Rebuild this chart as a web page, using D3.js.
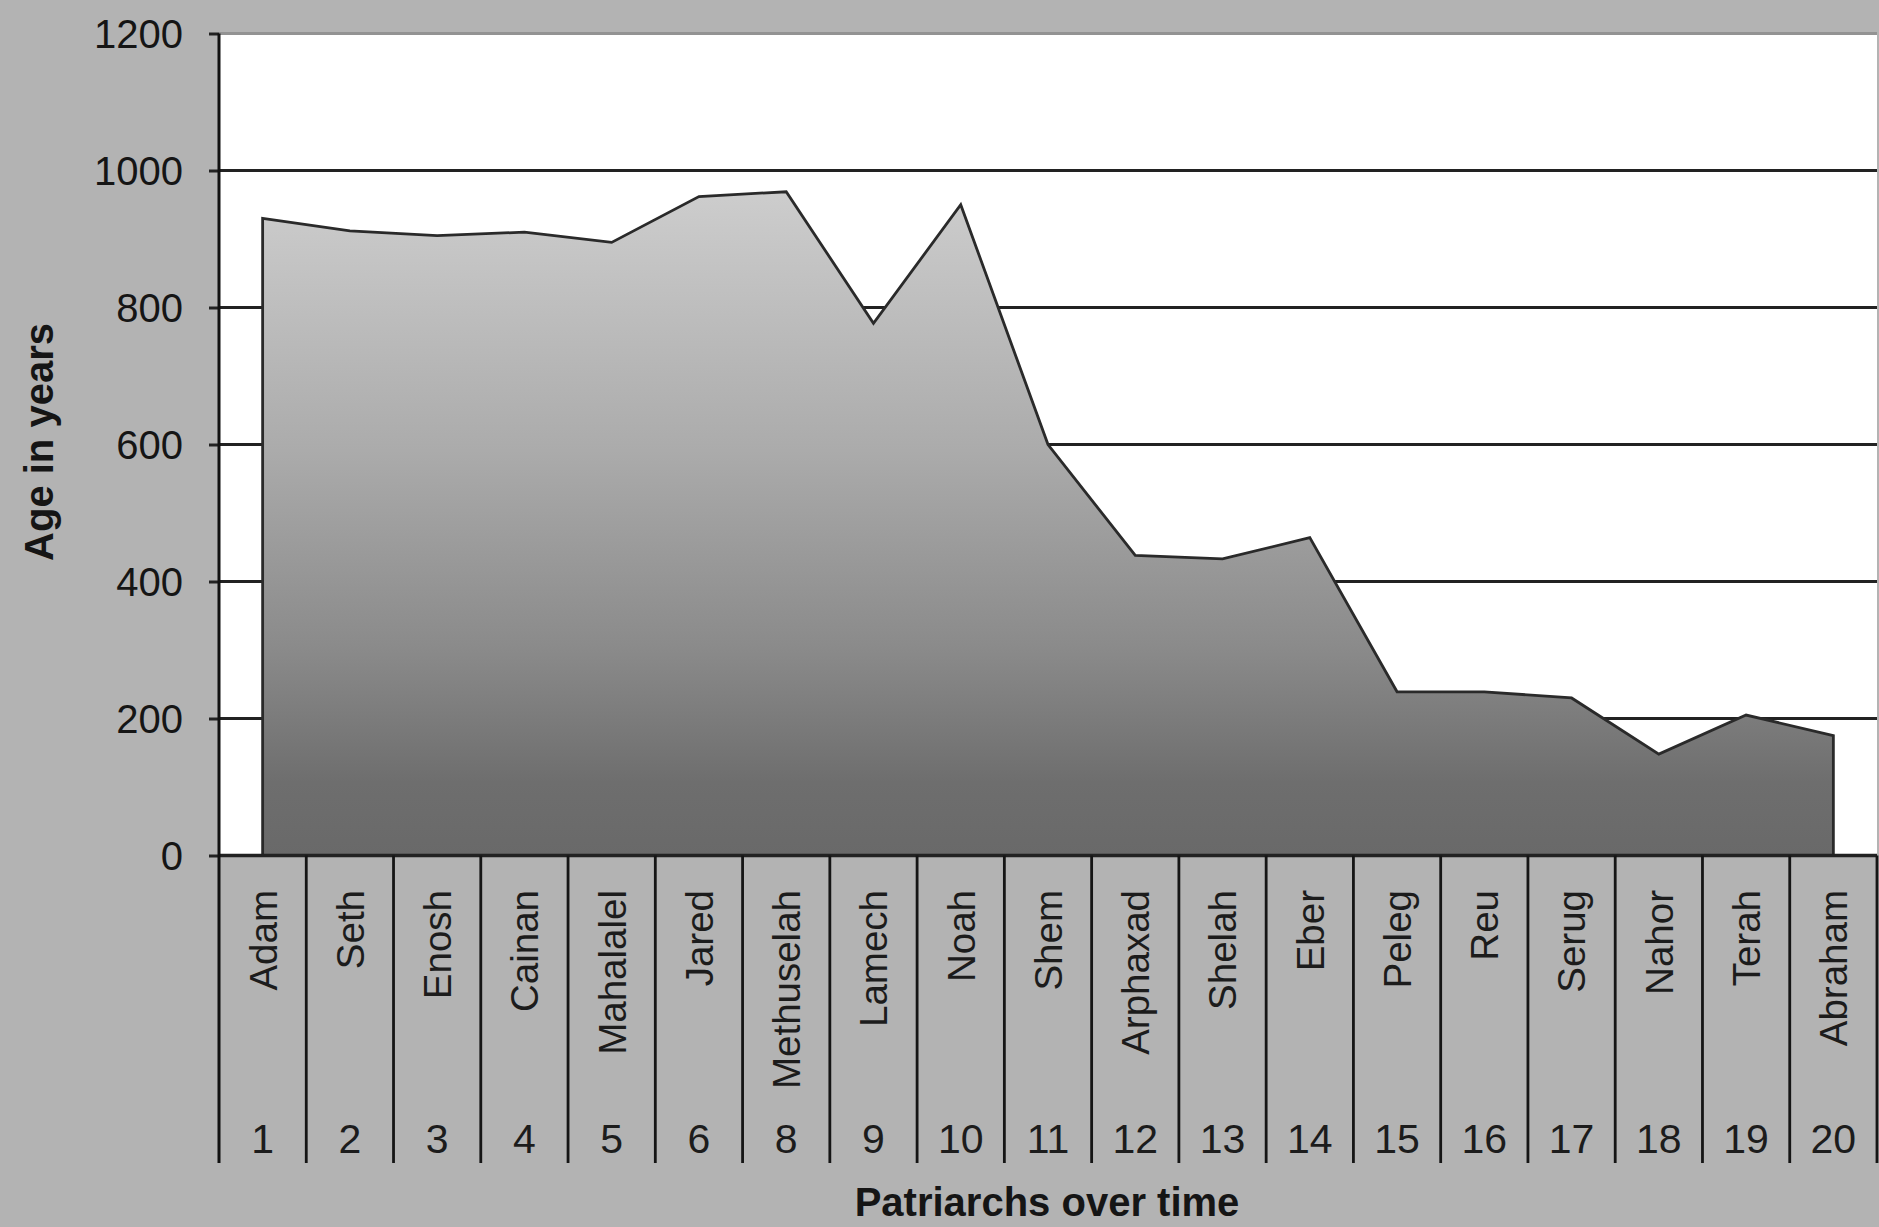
<!DOCTYPE html>
<html><head><meta charset="utf-8">
<script src="https://cdn.jsdelivr.net/npm/d3@7"></script>
<style>html,body{margin:0;padding:0;background:#b3b3b3;overflow:hidden} svg{display:block}</style>
</head><body><svg id="c" width="1879" height="1227"></svg>
<script>
const names = ["Adam","Seth","Enosh","Cainan","Mahalalel","Jared","Methuselah","Lamech","Noah","Shem","Arphaxad","Shelah","Eber","Peleg","Reu","Serug","Nahor","Terah","Abraham"];
const numbers = ["1","2","3","4","5","6","8","9","10","11","12","13","14","15","16","17","18","19","20"];
const ages = [930,912,905,910,895,962,969,777,950,600,438,433,464,239,239,230,148,205,175];
const yTicks = [0,200,400,600,800,1000,1200];
const yTitle = "Age in years";
const xTitle = "Patriarchs over time";

const W = 1879, H = 1227;
const L = 219, R = 1877, T = 33.5, B = 855.5, tickBottom = 1163;
const FONT = "'Liberation Sans', Arial, sans-serif";

const svg = d3.select("#c");
svg.append("rect").attr("width", W).attr("height", H).attr("fill", "#b3b3b3");

const x = d3.scaleBand().domain(names).range([L, R]).padding(0);
const y = d3.scaleLinear().domain([0, 1200]).range([B, T]);
const cx = n => x(n) + x.bandwidth() / 2;
const data = names.map((n, i) => ({name: n, num: numbers[i], age: ages[i]}));

// gradient
const defs = svg.append("defs");
const g = defs.append("linearGradient").attr("id", "fillg")
  .attr("gradientUnits", "userSpaceOnUse")
  .attr("x1", 0).attr("x2", 0).attr("y1", y(d3.max(ages))).attr("y2", y(0));
[[0, "#cdcdcd"], [0.39, "#ababab"], [0.69, "#8a8a8a"], [0.89, "#6e6e6e"], [1, "#696969"]]
  .forEach(([o, c]) => g.append("stop").attr("offset", o).attr("stop-color", c));

// plot background
svg.append("rect").attr("x", L).attr("y", T).attr("width", R - L).attr("height", B - T).attr("fill", "#ffffff");

// gridlines
svg.append("g").selectAll("line").data(yTicks.filter(v => v > 0)).join("line")
  .attr("x1", L).attr("x2", R).attr("y1", d => y(d)).attr("y2", d => y(d))
  .attr("stroke", d => d === 1200 ? "#939393" : "#222")
  .attr("stroke-width", 3);

// area
const area = d3.area().x(d => cx(d.name)).y0(y(0)).y1(d => y(d.age));
svg.append("path").datum(data).attr("d", area)
  .attr("fill", "url(#fillg)").attr("stroke", "#2a2a2a").attr("stroke-width", 2.8)
  .attr("stroke-linejoin", "miter");

// y axis
const yAxis = d3.axisLeft(y).tickValues(yTicks).tickSize(10).tickPadding(26).tickFormat(d3.format("d"));
const ya = svg.append("g").attr("transform", `translate(${L},0)`).call(yAxis);
ya.select(".domain").remove();
ya.selectAll(".tick line").attr("stroke", "#222").attr("stroke-width", 3);
ya.selectAll(".tick text").attr("font-family", FONT).attr("font-size", 40).attr("fill", "#151515")
  .attr("dy", "0.36em");

// x axis line
svg.append("line").attr("x1", L).attr("x2", R).attr("y1", y(0)).attr("y2", y(0))
  .attr("stroke", "#222").attr("stroke-width", 3.5);
// y axis line (extends as first category divider)
svg.append("line").attr("x1", L).attr("x2", L).attr("y1", T).attr("y2", tickBottom)
  .attr("stroke", "#111").attr("stroke-width", 3);

// category dividers
const edges = names.map(n => x(n)).concat([x.range()[1]]);
svg.append("g").selectAll("line").data(edges.slice(1)).join("line")
  .attr("x1", d => d).attr("x2", d => d).attr("y1", y(0)).attr("y2", tickBottom)
  .attr("stroke", "#151515").attr("stroke-width", 2.8);

// category names
svg.append("g").selectAll("text").data(data).join("text")
  .attr("transform", d => `translate(${cx(d.name)},890) rotate(-90)`)
  .attr("text-anchor", "end").attr("dy", "0.36em")
  .attr("font-family", FONT).attr("font-size", 38.5).attr("fill", "#1c1c1c")
  .text(d => d.name);

// numbers
svg.append("g").selectAll("text").data(data).join("text")
  .attr("x", d => cx(d.name)).attr("y", 1153)
  .attr("text-anchor", "middle")
  .attr("font-family", FONT).attr("font-size", 41).attr("fill", "#1c1c1c")
  .text(d => d.num);

// axis titles
svg.append("text").attr("transform", `translate(53,442) rotate(-90)`)
  .attr("text-anchor", "middle").attr("font-family", FONT).attr("font-weight", "bold")
  .attr("font-size", 40).attr("fill", "#151515").text(yTitle);
svg.append("text").attr("x", 1047).attr("y", 1216)
  .attr("text-anchor", "middle").attr("font-family", FONT).attr("font-weight", "bold")
  .attr("font-size", 40).attr("fill", "#151515").text(xTitle);
</script></body></html>
